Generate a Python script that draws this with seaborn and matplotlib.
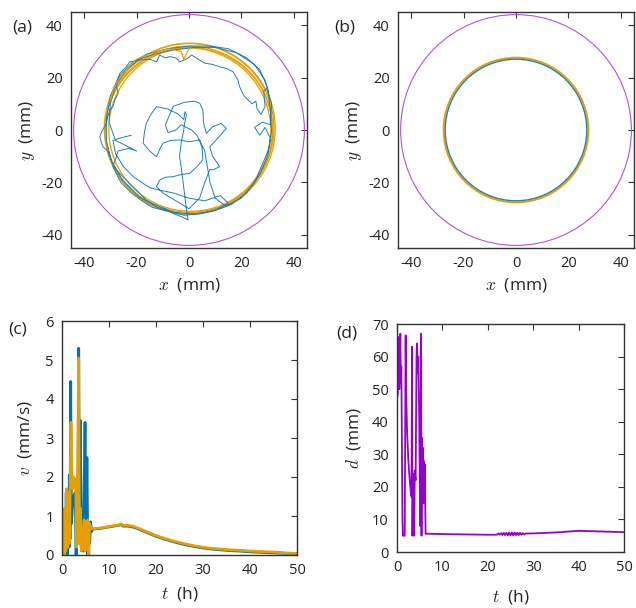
import numpy as np
import pandas as pd
import matplotlib
matplotlib.use("Agg")
import matplotlib.pyplot as plt
from matplotlib.patches import Circle
import seaborn as sns

# ---- data ----
# (a) blue trajectory waypoints (x, y) in mm
traj_pts = [(30, 16), (28.5, 15), (29, 9), (27.5, 6), (26, 8), (25.5, 11), (24, 10),
            (22.5, 11.5), (21, 13), (20, 15), (19.3, 16.5), (18.7, 19), (16.8, 22.2),
            (14.2, 23.5), (12, 24), (9, 25), (6, 25.5), (4, 26.7), (1, 28.6), (-1, 27),
            (-3.6, 26), (-5, 27.5), (-7.4, 28), (-9, 27.5), (-11.2, 28.6), (-12.4, 26),
            (-15, 27), (-18.8, 26.7), (-22.6, 26), (-24, 24), (-26.4, 21.6), (-27, 19),
            (-27.7, 16.5), (-27, 14), (-28.3, 11.4), (-29, 9), (-30.2, 7.6), (-31, 5),
            (-31.5, 2.5), (-33, 0), (-34, -2.5), (-33.5, -4.5), (-32.8, -6.4), (-31, -8),
            (-30.2, -10.2), (-29, -13), (-27.7, -15.2), (-26, -17), (-23.9, -19.1),
            (-22, -21), (-20, -22.9), (-18, -25), (-16.3, -26.7), (-14, -28), (-11.2, -29.2),
            (-9, -30), (-6.1, -31.8), (-3, -33), (-0.4, -34.3), (-1, -30), (-2, -22),
            (-3, -14), (-3.6, -10.2), (-3, -5), (-2, 0), (-1.7, 2.5), (-1, 5.7), (-1.5, 7),
            (-2, 4), (-4, 6), (-8, 8), (-12.4, 8.9), (-14.5, 6), (-16.3, 2.5), (-17, -1),
            (-17.5, -5), (-15, -8), (-12.4, -10.2), (-11, -7), (-9.9, -5), (-7, -4),
            (-3.6, -3.8), (0, -4.5), (4.1, -3.8), (5, -7), (5.3, -11.4), (3, -14),
            (0.3, -16.5), (-3, -17), (-6.1, -17.8), (-9, -18), (-11.2, -19.1),
            (-12.4, -21.6), (-10, -24), (-5, -27), (0, -30), (4, -26), (6, -20), (8, -15),
            (9.1, -15.2), (11.7, -14), (9, -10), (7.9, -6.4), (10.4, -3.8), (14.2, 0.6),
            (12.3, 2.5), (9.1, 1.3), (6.6, -1.3), (5.5, 3), (5.3, 7.6), (4.1, 10.2),
            (2, 11), (-2, 10.5), (-6, 9), (-9, 2), (-8, -1), (-5, 0), (-3, 2), (1, 0),
            (3, -2), (6, -8), (7, -14), (8, -20), (10, -26), (14, -29), (20, -26), (25, -20),
            (28, -13), (30.5, -7), (31.5, 0), (31, 8), (30, 16), (27, 23), (22, 27.5),
            (15, 31), (8, 32), (0, 32), (-8, 31), (-16, 29), (-22, 25.5), (-27, 20),
            (-30, 13), (-31.5, 4), (-31.5, -4), (-29.5, -12), (-25.5, -19), (-19, -25.5),
            (-12, -29.5), (-5, -31.5), (2, -32), (9, -31), (16, -28.5), (22, -24),
            (27, -17), (30, -10), (31, -3), (29, 1), (27, -2), (25, 1), (28, 3), (31, 2),
            (31.5, 10), (29, 19), (25, 25), (18, 29.5), (10, 31.5), (2, 31.5), (-6, 30.5),
            (-13, 29), (-19, 27), (-24, 23), (-28, 17), (-30, 10), (-30.5, 3), (-28, -4),
            (-24, -6), (-20, -8), (-23, -7), (-27, -8), (-29, -14), (-26, -20),
            (-22, -24), (-18, -27), (-14, -29.5), (-8, -31), (-2, -32.5), (4, -32),
            (10, -30.5), (15, -28), (12, -25), (6, -27), (0, -26), (-6, -24), (-11, -23),
            (-15, -22), (-18, -20), (-21, -18), (-25, -14), (-28, -9), (-29, -4),
            (-26, -3), (-22, -2)]
# (a) orange loops (centre x, centre y, radius) and its starting segment
loop_cx = [0.0, 0.3, -0.4, 0.2, 0.6]
loop_cy = [0.0, 0.5, -0.3, 0.8, 0.2]
loop_r = [32.0, 32.6, 31.6, 32.2, 31.2]
start_pts = [(-30, 11), (-29, 15), (-27, 19), (-24, 23), (-20, 27), (-15, 29), (-8, 31),
             (-3, 30), (-2, 27), (0, 31)]
# arena and steady-state circle radii (mm)
arena_r = 44.0
final_blue_r = 27.0
final_orange_r = 27.6

# (c) speed vs time, (t [h], v [mm/s])
speed_blue = [(0, 0), (0.1, 1.05), (0.3, 0.2), (0.5, 1.0), (0.7, 0.3), (0.9, 1.6), (1.1, 0),
              (1.3, 1.1), (1.5, 0.2), (1.56, 2.05), (1.7, 0.4), (1.85, 4.45), (2.0, 0.8),
              (2.2, 1.2), (2.4, 1.4), (2.6, 1.55), (2.8, 1.6), (3.0, 0), (3.2, 1.6),
              (3.4, 0.3), (3.55, 5.3), (3.7, 0.6), (3.9, 3.45), (4.1, 0.2), (4.3, 0.8),
              (4.5, 0.1), (4.7, 1.6), (4.9, 3.4), (5.1, 0.5), (5.3, 2.5), (5.5, 0),
              (5.7, 0.7), (5.9, 0.3), (6.1, 0.85), (6.3, 0.6), (6.5, 0.66), (7, 0.67),
              (8, 0.68), (9, 0.7), (10, 0.72), (11, 0.74), (12, 0.76), (12.5, 0.78),
              (13, 0.74), (14, 0.74), (15, 0.72), (16, 0.68), (17, 0.63), (18, 0.58),
              (19, 0.53), (20, 0.48), (22, 0.4), (24, 0.33), (26, 0.27), (28, 0.22),
              (30, 0.18), (32, 0.15), (34, 0.13), (36, 0.11), (38, 0.1), (40, 0.08),
              (42, 0.07), (44, 0.06), (46, 0.05), (48, 0.04), (50, 0.03)]
speed_orange = [(0, 0), (0.2, 0.9), (0.4, 0), (0.6, 1.2), (0.8, 0.1), (1.0, 1.7), (1.2, 0.2),
                (1.4, 1.6), (1.6, 0.3), (1.9, 3.4), (2.1, 1.9), (2.3, 1.7), (2.5, 2.0),
                (2.7, 1.8), (2.9, 1.95), (3.1, 0.2), (3.3, 1.9), (3.55, 5.05), (3.7, 0.3),
                (3.9, 1.2), (4.1, 0.1), (4.3, 0.7), (4.5, 0.2), (4.7, 0.9), (4.9, 0.1),
                (5.1, 0.8), (5.3, 0.3), (5.5, 0.9), (5.7, 0), (5.9, 0.8), (6.1, 0.7),
                (6.5, 0.67), (7, 0.68), (8, 0.69), (9, 0.71), (10, 0.73), (11, 0.75),
                (12, 0.77), (12.5, 0.8), (13, 0.76), (14, 0.76), (15, 0.74), (16, 0.7),
                (17, 0.65), (18, 0.6), (19, 0.55), (20, 0.5), (22, 0.42), (24, 0.35),
                (26, 0.29), (28, 0.24), (30, 0.2), (32, 0.17), (34, 0.15), (36, 0.13),
                (38, 0.12), (40, 0.1), (42, 0.09), (44, 0.08), (46, 0.07), (48, 0.05),
                (50, 0.04)]

# (d) distance vs time, (t [h], d [mm])
dist = [(0, 63), (0.1, 48), (0.2, 64), (0.3, 55), (0.4, 66), (0.5, 50), (0.6, 60),
        (0.74, 67), (0.85, 52), (0.95, 57), (1.05, 40), (1.2, 10), (1.3, 5), (1.5, 5),
        (1.7, 5), (1.9, 66.5), (2.0, 50), (2.2, 38), (2.5, 28), (2.8, 22), (3.0, 19),
        (3.2, 17), (3.3, 63), (3.4, 5), (3.5, 20), (3.6, 24), (3.8, 5), (3.9, 25),
        (4.1, 22), (4.3, 60), (4.4, 64), (4.5, 55), (4.7, 60), (4.9, 40), (5.1, 8),
        (5.2, 30), (5.3, 67), (5.4, 5), (5.5, 35), (5.6, 20), (5.7, 32), (5.8, 15),
        (5.9, 28), (6.0, 20), (6.1, 27), (6.3, 5.6), (7, 5.6), (10, 5.5), (15, 5.4),
        (20, 5.3), (22, 5.3), (22.3, 5.7), (22.6, 5.3), (22.9, 5.8), (23.2, 5.2),
        (23.5, 5.9), (23.8, 5.2), (24.1, 5.9), (24.4, 5.1), (24.7, 6.0), (25, 5.1),
        (25.3, 6.0), (25.6, 5.1), (25.9, 6.0), (26.2, 5.2), (26.5, 5.9), (26.8, 5.2),
        (27.1, 5.9), (27.4, 5.3), (27.7, 5.8), (28, 5.4), (28.5, 5.7), (30, 5.7),
        (35, 6.0), (38, 6.3), (40, 6.5), (45, 6.3), (50, 6.1)]

# ---- style ----
sns.set_style("white")
plt.rcParams["font.family"] = ["Open Sans", "DejaVu Sans"]
plt.rcParams["mathtext.fontset"] = "cm"
plt.rcParams["axes.unicode_minus"] = False

BLUE = "#1f7fbf"
ORANGE = "#e69f00"
PURPLE = "#9400d3"
ARENA = "#b74fe6"

fig = plt.figure(figsize=(6.36, 6.08), dpi=100)
W, H = 636, 608


def px_axes(left, top, right, bottom):
    return fig.add_axes([left / W, 1 - bottom / H, (right - left) / W, (bottom - top) / H])


ax_a = px_axes(71, 12, 307, 248)
ax_b = px_axes(398, 12, 634, 248)
ax_c = px_axes(62, 321, 297, 555)
ax_d = px_axes(397, 324, 624, 552)


def frame(ax):
    for s in ax.spines.values():
        s.set_color("#333333")
        s.set_linewidth(1.0)
        s.set_visible(True)
    ax.tick_params(direction="in", top=True, right=True, length=4.5, width=0.8,
                   color="#333333", labelsize=10.5, labelcolor="#222222", pad=6)


def to_df(pts, a, b):
    return pd.DataFrame(pts, columns=[a, b])


# (a)
sns.lineplot(data=to_df(traj_pts, "x", "y"), x="x", y="y", sort=False, estimator=None,
             ax=ax_a, color=BLUE, lw=0.7)
sns.lineplot(data=to_df(start_pts, "x", "y"), x="x", y="y", sort=False, estimator=None,
             ax=ax_a, color=ORANGE, lw=0.9)
for cx, cy, r in zip(loop_cx, loop_cy, loop_r):
    ax_a.add_patch(Circle((cx, cy), r, fill=False, ec=ORANGE, lw=0.9))
ax_a.add_patch(Circle((0, 0), arena_r, fill=False, ec=ARENA, lw=0.8))

# (b)
ax_b.add_patch(Circle((0, 0), final_orange_r, fill=False, ec=ORANGE, lw=1.4))
ax_b.add_patch(Circle((0, 0), final_blue_r, fill=False, ec=BLUE, lw=1.0))
ax_b.add_patch(Circle((0, 0), arena_r, fill=False, ec=ARENA, lw=0.8))

for ax in (ax_a, ax_b):
    ax.set_xlim(-45, 45)
    ax.set_ylim(-45, 45)
    ax.set_xticks([-40, -20, 0, 20, 40])
    ax.set_yticks([-40, -20, 0, 20, 40])
    ax.set_xlabel(r"$x$  (mm)", fontsize=12.5, labelpad=3)
    ax.set_ylabel(r"$y$  (mm)", fontsize=12.5, labelpad=3)
    frame(ax)

# (c)
sb = to_df(speed_blue, "t", "v")
so = to_df(speed_orange, "t", "v")
sns.lineplot(data=sb, x="t", y="v", sort=False, estimator=None, ax=ax_c, color="#0072b2", lw=2.0)
sns.lineplot(data=so, x="t", y="v", sort=False, estimator=None, ax=ax_c, color=ORANGE, lw=2.0)
ax_c.set_xlim(0, 50)
ax_c.set_ylim(0, 6)
ax_c.set_xticks([0, 10, 20, 30, 40, 50])
ax_c.set_yticks([0, 1, 2, 3, 4, 5, 6])
ax_c.set_xlabel(r"$t$  (h)", fontsize=12.5, labelpad=5)
ax_c.set_ylabel(r"$v$  (mm/s)", fontsize=12.5, labelpad=8)
frame(ax_c)

# (d)
dd = to_df(dist, "t", "d")
sns.lineplot(data=dd, x="t", y="d", sort=False, estimator=None, ax=ax_d, color=PURPLE, lw=1.3)
ax_d.set_xlim(0, 50)
ax_d.set_ylim(0, 70)
ax_d.set_xticks([0, 10, 20, 30, 40, 50])
ax_d.set_yticks([0, 10, 20, 30, 40, 50, 60, 70])
ax_d.set_xlabel(r"$t$  (h)", fontsize=12.5, labelpad=9)
ax_d.set_ylabel(r"$d$  (mm)", fontsize=12.5, labelpad=6)
frame(ax_d)

for lab, x, y in [("(a)", 12, 27), ("(b)", 334, 27), ("(c)", 8, 330), ("(d)", 336, 334)]:
    fig.text(x / W, 1 - y / H, lab, fontsize=12.5, color="#222222", va="center", ha="left")

fig.savefig("out.png", dpi=100)
